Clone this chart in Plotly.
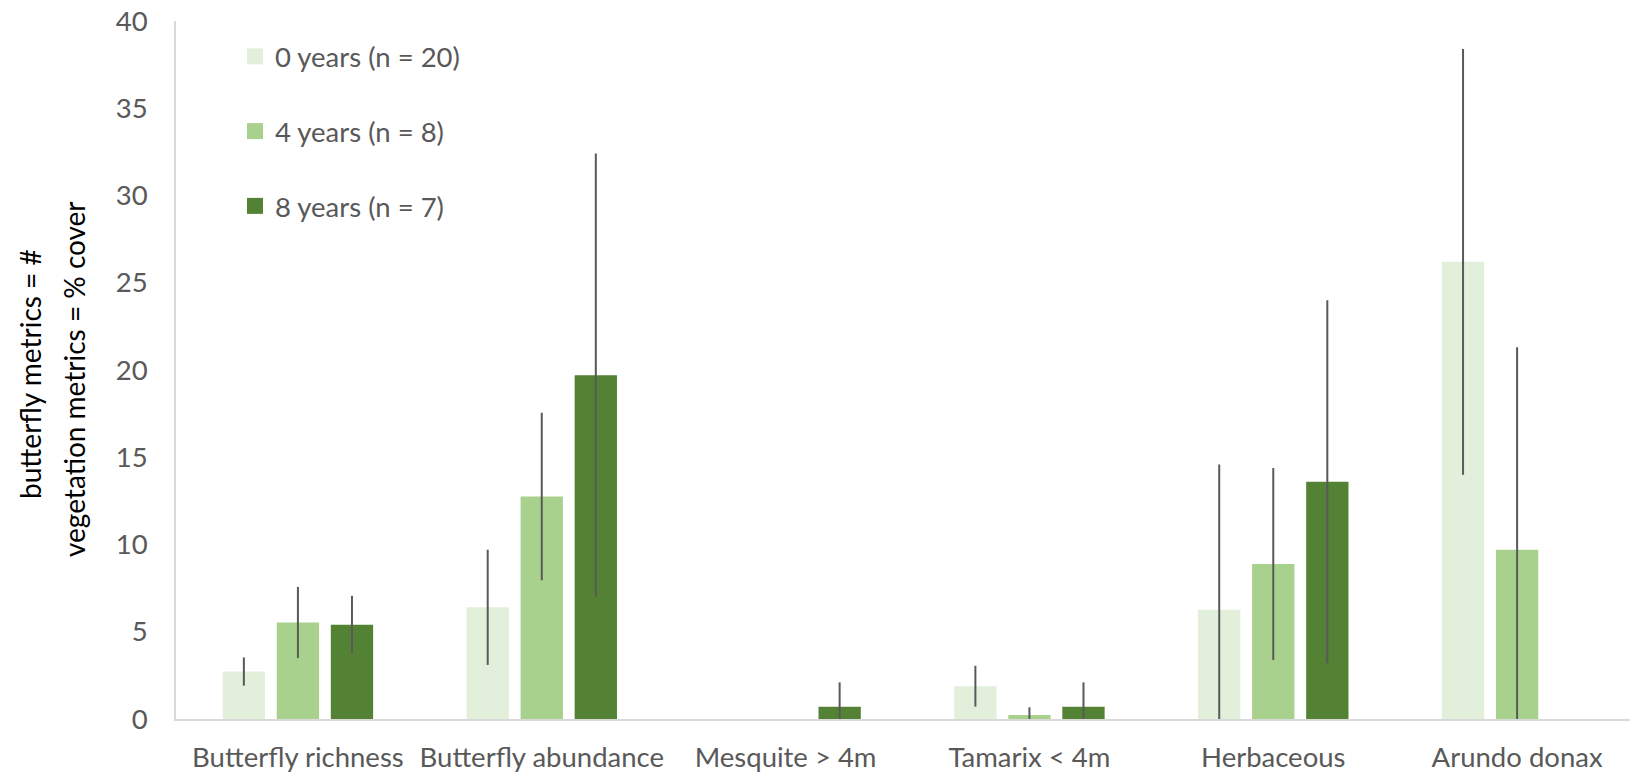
import plotly.graph_objects as go

categories = ["Butterfly richness", "Butterfly abundance", "Mesquite > 4m",
              "Tamarix < 4m", "Herbaceous", "Arundo donax"]
series_names = ["0 years (n = 20)", "4 years (n = 8)", "8 years (n = 7)"]
mean_0y = [2.72, 6.4, 0, 1.88, 6.26, 26.2]
err_0y = [0.81, 3.3, 0, 1.17, 8.32, 12.2]
mean_4y = [5.53, 12.75, 0, 0.23, 8.88, 9.7]
err_4y = [2.04, 4.8, 0, 0.44, 5.5, 11.6]
mean_8y = [5.40, 19.7, 0.70, 0.70, 13.6, 0]
err_8y = [1.66, 12.7, 1.40, 1.40, 10.4, 0]
colors = ["#E2EFDA", "#A9D18E", "#548235"]
y_ticks = [0, 5, 10, 15, 20, 25, 30, 35, 40]

FONT = "Lato"
FS = 27.5
TXT = "#595959"

W, H = 1630, 773
L, R, T, B = 176, 0, 21, 54

fig = go.Figure()
means = [mean_0y, mean_4y, mean_8y]
errs = [err_0y, err_4y, err_8y]
for i in range(3):
    fig.add_trace(go.Bar(
        x=categories, y=means[i], name=series_names[i],
        marker=dict(color=colors[i], line=dict(width=0)),
        error_y=dict(type="data", array=errs[i], visible=True,
                     color="#595959", thickness=2, width=0),
        showlegend=False,
    ))
for i in range(3):
    fig.add_trace(go.Scatter(
        x=[None], y=[None], mode="markers", name=series_names[i],
        marker=dict(symbol="square", size=17, color=colors[i]),
        legendgroup=f"g{i}", showlegend=True,
    ))

plot_w = W - L - R
plot_h = H - T - B

def px_x(px):
    return (px - L) / plot_w

def px_y(py):
    return (H - B - py) / plot_h

fig.update_layout(
    width=W, height=H,
    margin=dict(l=L, r=R, t=T, b=B, pad=0),
    paper_bgcolor="white", plot_bgcolor="white",
    font=dict(family=FONT, size=FS, color=TXT),
    barmode="group", bargap=0.335, bargroupgap=0.217,
    legend=dict(x=px_x(235), y=px_y(32), xanchor="left", yanchor="top",
                bgcolor="rgba(0,0,0,0)", tracegroupgap=36,
                traceorder="grouped",
                font=dict(family=FONT, size=FS, color=TXT)),
    xaxis=dict(range=[-0.5, 5.463], showline=True, linecolor="#D9D9D9",
               linewidth=1.5, showgrid=False, ticks="", zeroline=False,
               ticklabelstandoff=13, tickfont=dict(size=FS, color=TXT)),
    yaxis=dict(range=[0, 40], tickvals=y_ticks, showline=True,
               linecolor="#D9D9D9", linewidth=1.5, showgrid=False,
               ticks="", zeroline=False, ticklabelstandoff=21,
               tickfont=dict(size=FS, color=TXT)),
)

fig.add_annotation(text="butterfly metrics = #", xref="paper", yref="paper",
                   x=px_x(30), y=px_y(374), textangle=-90, showarrow=False,
                   xanchor="center", yanchor="middle",
                   font=dict(family=FONT, size=28, color="#000000"))
fig.add_annotation(text="vegetation metrics = % cover", xref="paper", yref="paper",
                   x=px_x(74), y=px_y(379), textangle=-90, showarrow=False,
                   xanchor="center", yanchor="middle",
                   font=dict(family=FONT, size=28, color="#000000"))

fig.write_html("out.html")
